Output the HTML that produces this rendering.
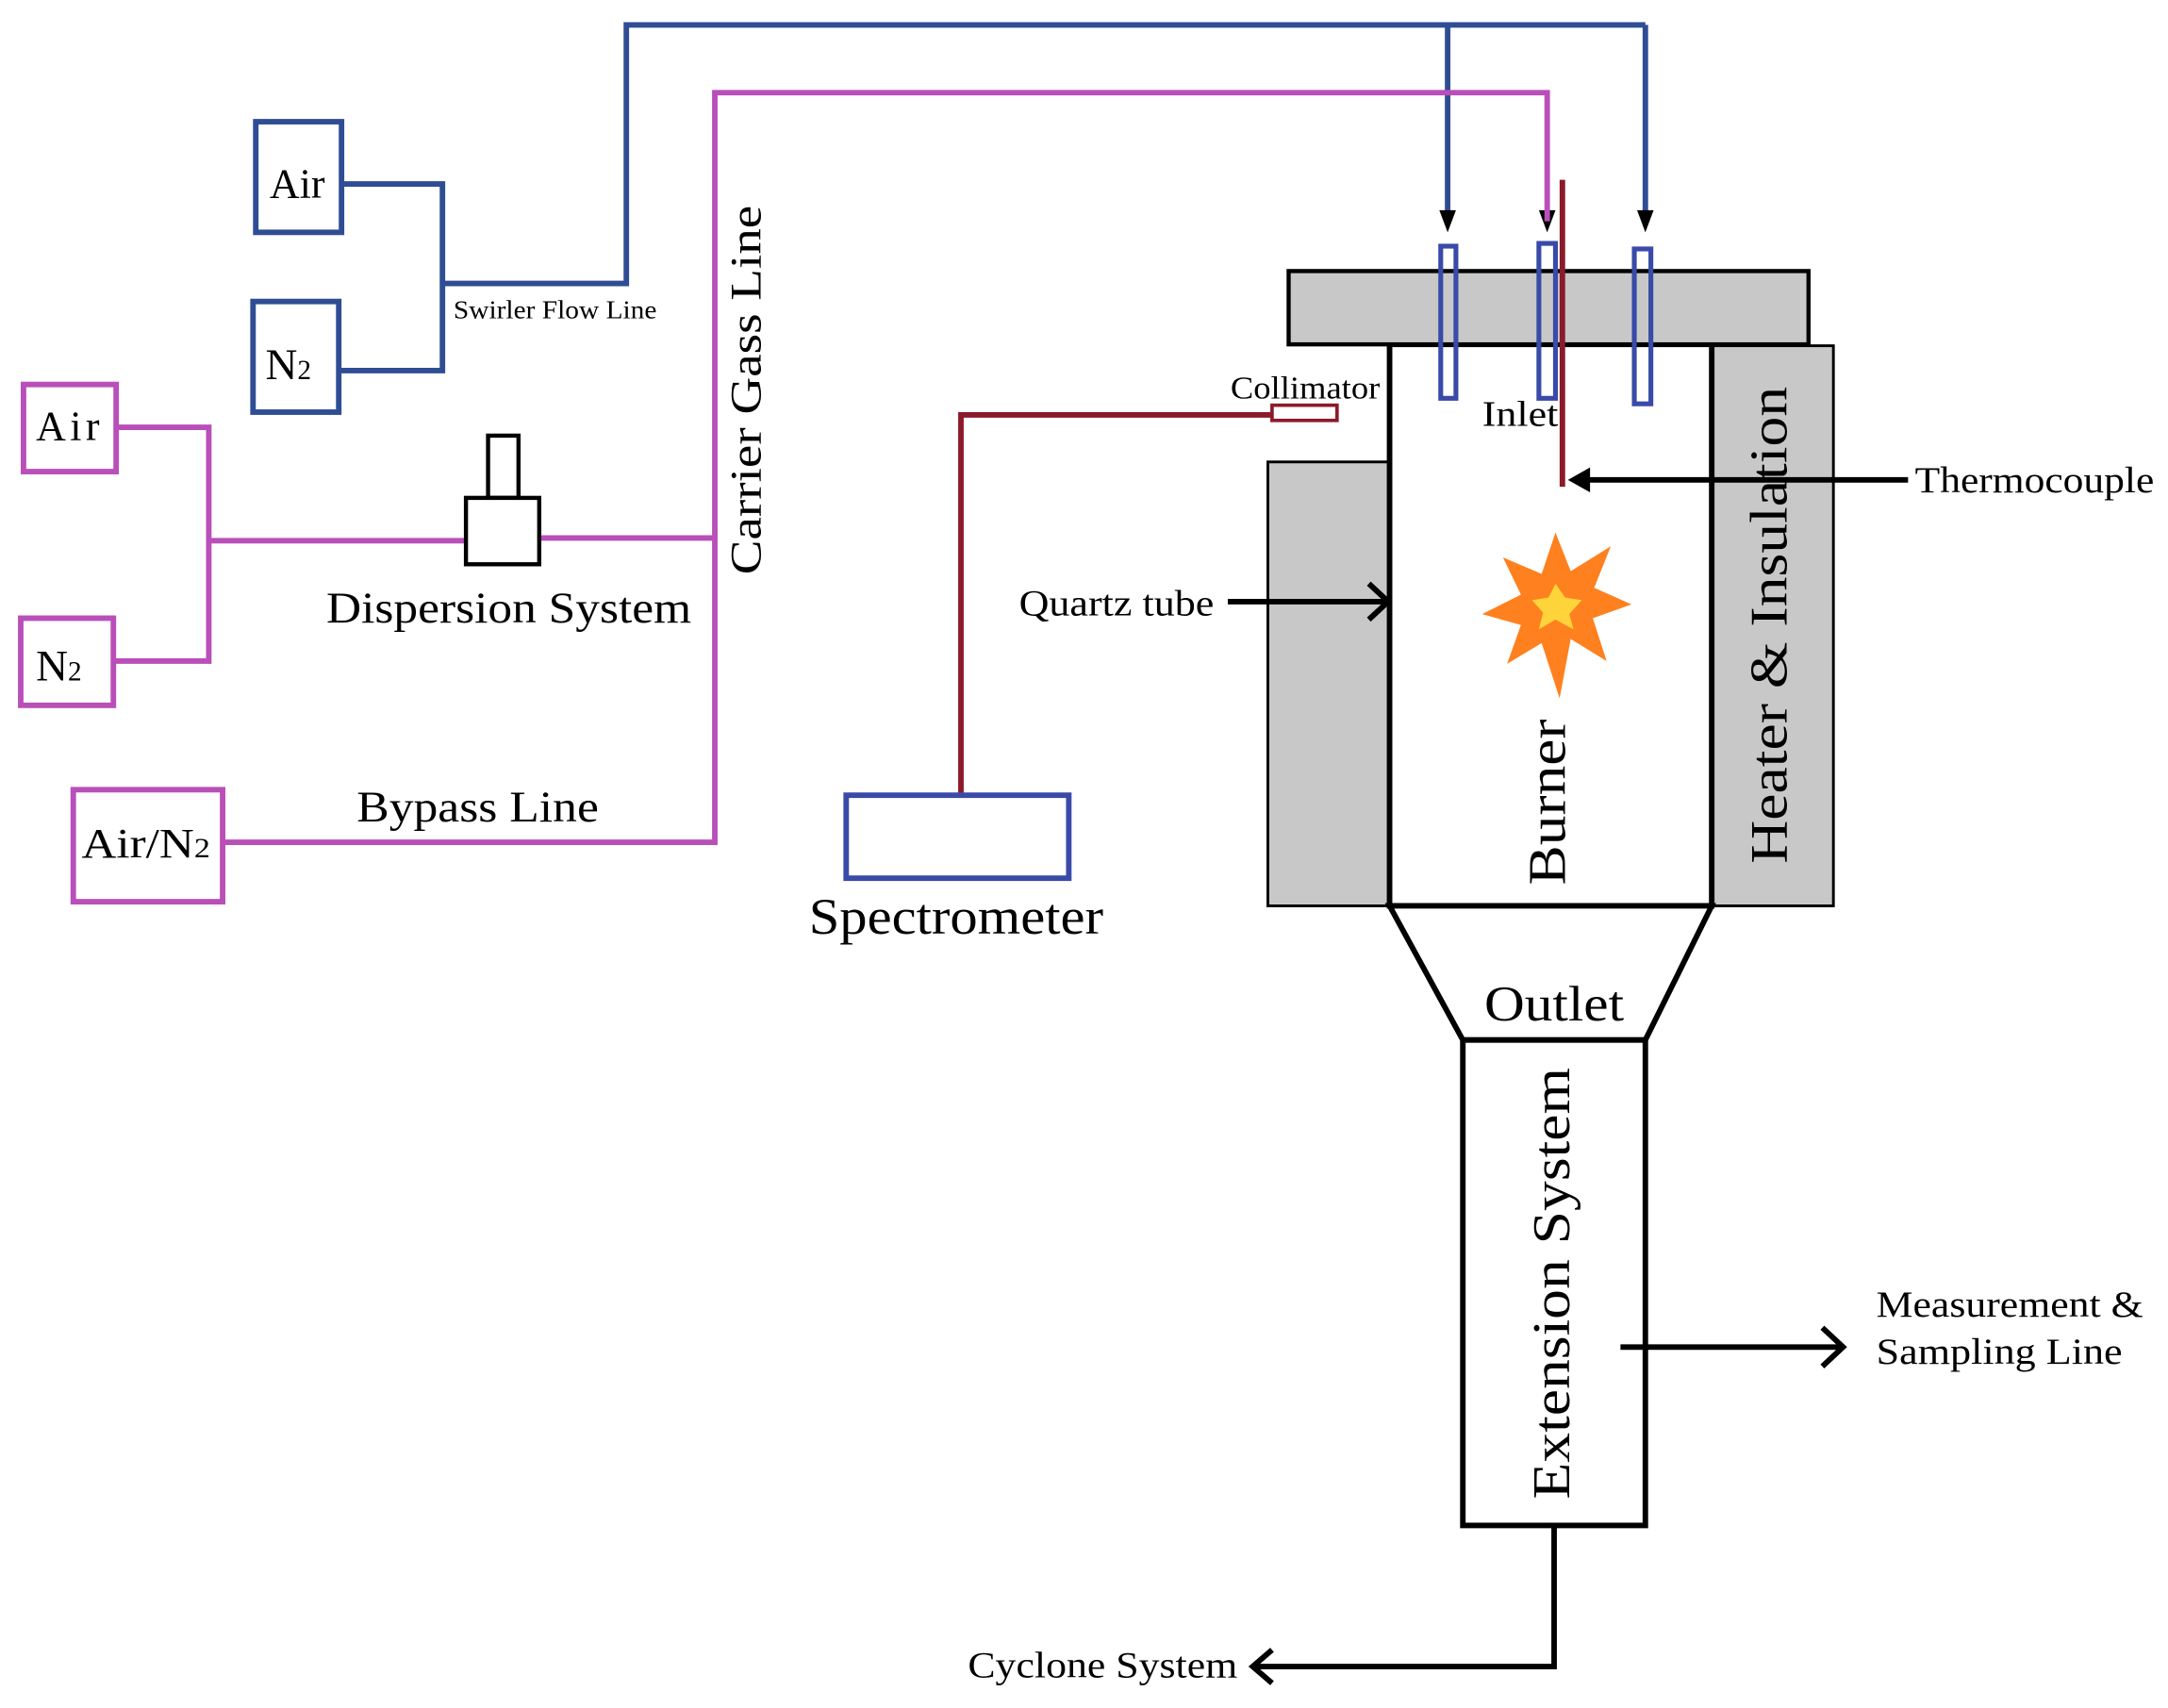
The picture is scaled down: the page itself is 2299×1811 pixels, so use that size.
<!DOCTYPE html>
<html><head><meta charset="utf-8"><style>
html,body{margin:0;padding:0;background:#fff;}
svg{display:block;}
text{font-family:"Liberation Serif",serif;fill:#000;}
</style></head><body>
<svg width="2299" height="1811" viewBox="0 0 1568 1235" preserveAspectRatio="none" xmlns="http://www.w3.org/2000/svg">
<rect width="1568" height="1235" fill="#fff"/>
<g fill="none" stroke="#2f4d94" stroke-width="4">
<rect x="185" y="88" width="62" height="80"/>
<rect x="183" y="218" width="62" height="80"/>
<polyline points="247,133 320,133 320,268 245,268"/>
<polyline points="320,205 453,205 453,18 1190,18"/>
<polyline points="1047,18 1047,160"/>
<polyline points="1190,18 1190,160"/>
</g>
<g fill="#000">
<polygon points="1041,152 1053,152 1047,168"/>
<polygon points="1184,152 1196,152 1190,168"/>
<polygon points="1113,152 1125,152 1119,168"/>
</g>
<g fill="none" stroke="#b94fb9" stroke-width="4">
<rect x="17" y="278" width="67" height="63"/>
<rect x="15" y="447" width="67" height="63"/>
<rect x="53" y="571" width="108" height="81"/>
<polyline points="84,309 151,309 151,478 82,478"/>
<line x1="151" y1="391" x2="337" y2="391"/>
<line x1="390" y1="389" x2="517" y2="389"/>
<polyline points="161,609 517,609 517,67 1119,67 1119,160"/>
</g>
<g fill="#fff" stroke="#000" stroke-width="3">
<rect x="353" y="315" width="22" height="45"/>
<rect x="337" y="360" width="53" height="48"/>
</g>
<text x="195" y="143" font-size="30" textLength="40">Air</text>
<text x="192" y="274" font-size="32">N<tspan font-size="20">2</tspan></text>
<text x="26" y="318" font-size="30" textLength="46">Air</text>
<text x="26" y="492" font-size="32">N<tspan font-size="20">2</tspan></text>
<text x="59" y="620" font-size="30" textLength="93" lengthAdjust="spacingAndGlyphs">Air/N<tspan font-size="20">2</tspan></text>
<text x="328" y="230" font-size="19" textLength="147" lengthAdjust="spacingAndGlyphs">Swirler Flow Line</text>
<text x="236" y="450" font-size="32" textLength="264" lengthAdjust="spacingAndGlyphs">Dispersion System</text>
<text x="258" y="594" font-size="32" textLength="175" lengthAdjust="spacingAndGlyphs">Bypass Line</text>
<text transform="translate(550,282) rotate(-90)" text-anchor="middle" font-size="32" textLength="267" lengthAdjust="spacingAndGlyphs">Carrier Gass Line</text>
<polyline points="695,575 695,300 920,300" fill="none" stroke="#8b1a2a" stroke-width="4"/>
<rect x="920" y="293" width="47" height="11" fill="#fff" stroke="#8b1a2a" stroke-width="2.5"/>
<rect x="612" y="575" width="161" height="60" fill="#fff" stroke="#3a4aa8" stroke-width="4"/>
<text x="585" y="675" font-size="37" textLength="213" lengthAdjust="spacingAndGlyphs">Spectrometer</text>
<g stroke="#000" stroke-width="2">
<rect x="917" y="334" width="88" height="321" fill="#c8c8c8"/>
<rect x="1238" y="250" width="88" height="405" fill="#c8c8c8"/>
</g>
<rect x="1005" y="249" width="233" height="406" fill="#fff" stroke="#000" stroke-width="4"/>
<rect x="932" y="196" width="376" height="53" fill="#c8c8c8" stroke="#000" stroke-width="3"/>
<g fill="none" stroke="#3a4aa8" stroke-width="3.5">
<rect x="1042" y="178" width="11" height="110"/>
<rect x="1113" y="176" width="12" height="112"/>
<rect x="1182" y="180" width="12" height="112"/>
</g>
<line x1="1130" y1="130" x2="1130" y2="352" stroke="#8b1a2a" stroke-width="4"/>
<text x="890" y="288" font-size="23" textLength="108" lengthAdjust="spacingAndGlyphs">Collimator</text>
<text x="1072" y="308" font-size="26" textLength="55" lengthAdjust="spacingAndGlyphs">Inlet</text>
<line x1="1380" y1="347" x2="1140" y2="347" stroke="#000" stroke-width="4"/>
<polygon points="1134,347 1150,338 1150,356" fill="#000"/>
<text x="1385" y="356" font-size="27" textLength="173" lengthAdjust="spacingAndGlyphs">Thermocouple</text>
<text x="737" y="445" font-size="27" textLength="141" lengthAdjust="spacingAndGlyphs">Quartz tube</text>
<line x1="888" y1="435" x2="1003" y2="435" stroke="#000" stroke-width="4"/>
<polyline points="990,422 1004,435 990,448" fill="none" stroke="#000" stroke-width="4"/>
<polygon points="1125,385 1136,413 1165,395 1153,425 1180,437 1152,447 1162,478 1136,462 1128,505 1115,465 1090,480 1100,452 1072,444 1100,430 1087,403 1115,415" fill="#ff801f"/>
<polygon points="1125,422 1132,432 1144,434 1135,444 1138,455 1125,448 1113,455 1116,443 1108,434 1120,432" fill="#ffd43a"/>
<text transform="translate(1132,580) rotate(-90)" text-anchor="middle" font-size="38" textLength="120" lengthAdjust="spacingAndGlyphs">Burner</text>
<text transform="translate(1292,452) rotate(-90)" text-anchor="middle" font-size="38" textLength="345" lengthAdjust="spacingAndGlyphs">Heater &amp; Insulation</text>
<polygon points="1005,655 1238,655 1190,752 1058,752" fill="#fff" stroke="#000" stroke-width="4"/>
<text x="1124" y="738" text-anchor="middle" font-size="36" textLength="101" lengthAdjust="spacingAndGlyphs">Outlet</text>
<rect x="1058" y="752" width="132" height="351" fill="#fff" stroke="#000" stroke-width="4"/>
<text transform="translate(1135,928) rotate(-90)" text-anchor="middle" font-size="38" textLength="312" lengthAdjust="spacingAndGlyphs">Extension System</text>
<line x1="1172" y1="974" x2="1332" y2="974" stroke="#000" stroke-width="4"/>
<polyline points="1318,960 1333,974 1318,988" fill="none" stroke="#000" stroke-width="4"/>
<text x="1357" y="952" font-size="27" textLength="193" lengthAdjust="spacingAndGlyphs">Measurement &amp;</text>
<text x="1357" y="986" font-size="27" textLength="178" lengthAdjust="spacingAndGlyphs">Sampling Line</text>
<polyline points="1124,1103 1124,1205 906,1205" fill="none" stroke="#000" stroke-width="4"/>
<polyline points="920,1193 906,1205 920,1217" fill="none" stroke="#000" stroke-width="4"/>
<text x="700" y="1213" font-size="27" textLength="195" lengthAdjust="spacingAndGlyphs">Cyclone System</text>
</svg>
</body></html>
